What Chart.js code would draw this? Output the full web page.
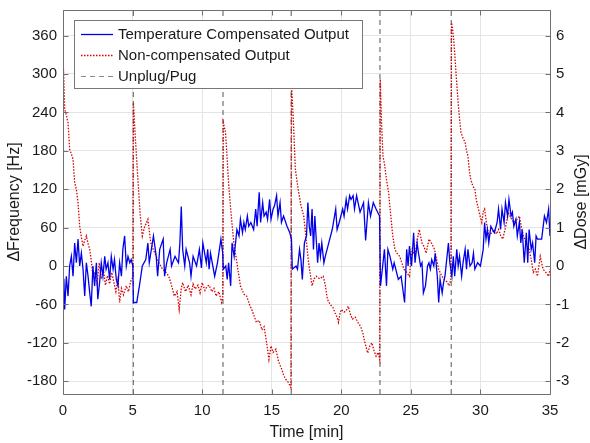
<!DOCTYPE html>
<html>
<head>
<meta charset="utf-8">
<script src="https://cdn.jsdelivr.net/npm/chart.js@4.4.0/dist/chart.umd.min.js"></script>
<style>
html,body{margin:0;padding:0;background:#fff;}
#wrap{position:relative;width:590px;height:443px;}
canvas{display:block;}
</style>
</head>
<body>
<div id="wrap"><canvas id="c" width="590" height="443"></canvas></div>
<script>
// ---- Data ----
const timeComp = [0.0,0.06,0.12,0.24,0.36,0.48,0.6,0.72,0.84,0.96,1.08,1.2,1.32,1.44,1.56,1.68,1.8,1.92,2.03,2.15,2.27,2.4,2.5,2.63,2.75,2.87,3.0,3.1,3.23,3.35,3.47,3.6,3.7,3.83,3.95,4.07,4.2,4.3,4.43,4.55,4.67,4.8,4.9,5.02,5.06,5.3,5.5,5.7,5.95,6.1,6.2,6.5,6.7,6.8,6.95,7.2,7.3,7.45,7.7,7.8,8.05,8.3,8.4,8.5,8.6,8.75,8.85,9.1,9.2,9.35,9.6,9.8,9.95,10.05,10.3,10.4,10.5,10.6,10.9,11.1,11.35,11.48,11.52,11.7,11.8,11.9,12.05,12.15,12.3,12.4,12.5,12.65,12.75,12.9,13.0,13.1,13.25,13.35,13.5,13.7,13.85,13.95,14.1,14.2,14.35,14.45,14.6,14.7,14.85,14.95,15.1,15.2,15.35,15.45,15.6,15.7,15.85,16.1,16.3,16.42,16.48,16.75,16.85,17.0,17.1,17.2,17.35,17.5,17.6,17.7,17.8,17.9,18.0,18.1,18.3,18.4,18.5,18.6,18.75,18.85,19.1,19.35,19.6,19.7,19.85,20.1,20.2,20.35,20.45,20.6,20.7,20.85,20.95,21.1,21.35,21.6,21.75,21.95,22.1,22.3,22.5,22.75,22.82,23.0,23.1,23.25,23.35,23.5,23.7,23.8,24.1,24.3,24.55,24.7,24.8,24.9,25.05,25.2,25.3,25.45,25.55,25.7,25.8,25.9,26.05,26.2,26.3,26.4,26.5,26.65,26.75,26.9,27.0,27.1,27.25,27.35,27.45,27.6,27.7,27.8,27.95,28.05,28.15,28.3,28.4,28.5,28.65,28.75,28.9,29.0,29.1,29.25,29.4,29.5,29.6,29.8,30.0,30.2,30.3,30.4,30.5,30.6,30.75,31.0,31.2,31.3,31.45,31.55,31.7,31.8,31.95,32.05,32.2,32.3,32.4,32.55,32.65,32.8,32.9,33.0,33.15,33.3,33.4,33.5,33.65,33.75,33.9,34.0,34.1,34.4,34.6,34.75,34.9,35.0];
const compensated = [-32,-20,-68,-16,-47,0,15,-16,36,5,42,0,20,-5,-47,5,-16,-42,-63,0,-31,5,-52,-26,5,-16,15,-5,5,-21,15,-5,10,-21,-31,5,-16,26,47,0,15,5,10,0,-57,-57,-30,0,10,36,5,47,15,-16,26,42,-16,5,26,0,15,5,36,93,26,0,26,5,-16,15,0,26,-3,36,5,26,-5,20,-16,5,42,20,-5,0,-21,5,-31,36,15,36,57,47,73,52,68,57,78,62,68,57,89,62,115,68,99,78,84,73,104,73,89,94,110,78,99,68,78,62,52,42,-5,0,-5,26,10,-21,36,47,99,62,47,89,26,78,5,36,15,36,5,15,36,57,89,57,68,89,78,104,89,110,104,110,89,110,84,99,40,99,78,99,89,78,-31,5,26,-31,26,15,-5,5,-21,-16,-57,26,0,31,0,52,5,36,20,0,5,-42,-31,0,5,-5,10,0,20,-16,-57,-21,-42,-26,-16,15,36,5,-16,15,-16,26,0,15,-16,5,26,-5,26,0,5,20,-5,5,0,26,68,42,57,36,62,52,68,89,57,89,68,99,78,104,78,84,62,73,47,68,36,57,5,52,5,57,26,36,5,47,42,42,78,68,89,47];

const timeNonComp = [0.0,0.05,0.12,0.25,0.36,0.48,0.6,0.72,0.84,0.96,1.08,1.2,1.32,1.44,1.56,1.68,1.8,1.92,2.05,2.15,2.3,2.45,2.6,2.75,2.9,3.05,3.2,3.35,3.5,3.65,3.8,3.95,4.07,4.2,4.35,4.55,4.7,4.9,5.02,5.06,5.2,5.4,5.55,5.7,5.85,6.1,6.3,6.5,6.7,6.9,7.15,7.4,7.6,7.8,8.0,8.2,8.35,8.5,8.6,8.8,9.0,9.2,9.35,9.5,9.7,9.85,10.0,10.2,10.35,10.5,10.7,10.85,11.0,11.2,11.4,11.48,11.52,11.68,11.9,12.05,12.27,12.5,12.75,13.0,13.2,13.4,13.6,13.9,14.1,14.3,14.45,14.6,14.8,14.95,15.1,15.3,15.5,15.7,15.85,16.0,16.2,16.38,16.42,16.55,16.7,16.9,17.1,17.3,17.5,17.65,17.9,18.05,18.2,18.45,18.7,18.85,19.0,19.2,19.4,19.55,19.7,19.8,19.9,20.0,20.2,20.35,20.5,20.65,20.8,21.0,21.2,21.4,21.55,21.7,21.8,21.9,22.05,22.2,22.35,22.5,22.65,22.76,22.8,22.9,23.0,23.1,23.25,23.4,23.55,23.7,23.85,24.0,24.2,24.35,24.5,24.7,24.9,25.0,25.1,25.3,25.45,25.6,25.8,25.95,26.1,26.3,26.5,26.7,26.85,27.0,27.2,27.4,27.6,27.75,27.88,27.92,28.0,28.1,28.25,28.4,28.5,28.6,28.75,28.9,29.0,29.1,29.2,29.3,29.45,29.6,29.7,29.8,29.95,30.1,30.2,30.3,30.45,30.6,30.8,31.0,31.15,31.3,31.45,31.6,31.8,32.0,32.2,32.4,32.6,32.8,32.95,33.1,33.3,33.5,33.65,33.8,33.95,34.1,34.3,34.5,34.7,34.9,35.0];
const nonCompensated = [323,300,245,235,224,182,175,167,130,120,99,62,45,31,40,47,35,26,5,-16,-10,-28,5,-20,-5,-30,-15,-28,-10,-25,-40,-20,-57,-35,-45,-31,-40,-21,-18,255,200,130,80,47,60,73,37,25,15,5,-5,-10,-16,-30,-47,-40,-68,-35,-26,-40,-30,-45,-28,-36,-30,-42,-26,-38,-32,-30,-40,-35,-47,-40,-57,-50,224,209,130,89,37,5,-31,-44,-47,-60,-70,-88,-85,-100,-95,-115,-146,-125,-135,-130,-150,-160,-170,-177,-182,-190,285,230,151,120,95,78,37,5,-31,-20,-16,-20,-16,-30,-52,-60,-65,-73,-80,-88,-75,-68,-72,-70,-63,-75,-83,-80,-88,-95,-105,-120,-128,-136,-125,-120,-132,-141,-135,-146,292,220,171,160,135,115,80,47,26,20,15,5,-5,-10,-16,10,26,15,40,57,36,30,20,42,35,26,10,-5,-15,-21,-25,-31,-20,380,370,349,300,255,230,209,200,193,180,172,150,136,125,120,104,94,80,68,85,89,65,47,52,57,50,57,48,42,60,84,75,68,72,78,60,47,35,26,10,-10,-5,-16,15,-5,-10,-16,-5];

const unplugTimes = [0, 5.05, 11.5, 16.4, 22.78, 27.9];
const xTickValues = [0, 5, 10, 15, 20, 25, 30, 35];
const freqTickValues = [-180, -120, -60, 0, 60, 120, 180, 240, 300, 360];
const doseTickValues = [-3, -2, -1, 0, 1, 2, 3, 4, 5, 6];
const freqRange = [-200, 400];
const hzPerMGy = 60;
const seriesLabels = ['Temperature Compensated Output', 'Non-compensated Output', 'Unplug/Pug'];

// ---- Build points ----
const compPts = timeComp.map((t, i) => ({x: t, y: compensated[i]}));
const nonCompPts = timeNonComp.map((t, i) => ({x: t, y: nonCompensated[i]}));
const unplugPts = [];
unplugTimes.forEach(t => {
  unplugPts.push({x: t, y: freqRange[0]});
  unplugPts.push({x: t, y: freqRange[1]});
  unplugPts.push({x: t, y: null});
});

const FONT = "Arial, 'Liberation Sans', Helvetica, sans-serif";
const TXT = '#1a1a1a';
const AXC = '#707070';

const styles = [
  {color: 'rgb(0,0,235)', width: 1.3, dash: []},
  {color: 'rgb(215,0,0)', width: 1.3, dash: [1.5, 1.5]},
  {color: '#555555', width: 1, dash: [5, 4]}
];

const framePlugin = {
  id: 'frame',
  afterDatasetsDraw(chart) {
    const {ctx, chartArea: a, scales} = chart;
    ctx.save();
    ctx.strokeStyle = AXC;
    ctx.lineWidth = 1;
    ctx.setLineDash([]);
    ctx.beginPath();
    const L = Math.round(a.left) + 0.5, R = Math.round(a.right) + 0.5;
    const T = Math.round(a.top) + 0.5, B = Math.round(a.bottom) + 0.5;
    ctx.rect(L, T, R - L, B - T);
    const tl = 5;
    xTickValues.forEach(v => {
      const px = Math.round(scales.x.getPixelForValue(v)) + 0.5;
      ctx.moveTo(px, B); ctx.lineTo(px, B - tl);
      ctx.moveTo(px, T); ctx.lineTo(px, T + tl);
    });
    freqTickValues.forEach(v => {
      const py = Math.round(scales.y.getPixelForValue(v)) + 0.5;
      ctx.moveTo(L, py); ctx.lineTo(L + tl, py);
    });
    doseTickValues.forEach(v => {
      const py = Math.round(scales.y1.getPixelForValue(v)) + 0.5;
      ctx.moveTo(R, py); ctx.lineTo(R - tl, py);
    });
    ctx.stroke();
    ctx.restore();
  },
  afterDraw(chart) {
    const {ctx, chartArea: a} = chart;
    ctx.save();
    // right axis title (reads bottom to top)
    ctx.fillStyle = TXT;
    ctx.font = '16px ' + FONT;
    ctx.textAlign = 'center';
    ctx.textBaseline = 'middle';
    ctx.translate(582, (a.top + a.bottom) / 2);
    ctx.rotate(-Math.PI / 2);
    ctx.fillText('\u0394Dose [mGy]', 0, 0);
    ctx.restore();

    // legend box
    ctx.save();
    const bx = 74.5, by = 20.5, bw = 288, bh = 68;
    ctx.fillStyle = '#ffffff';
    ctx.fillRect(bx, by, bw, bh);
    ctx.strokeStyle = '#777777';
    ctx.lineWidth = 1;
    ctx.strokeRect(bx, by, bw, bh);
    const rows = [34.5, 55.5, 76.5];
    ctx.font = '15px ' + FONT;
    ctx.textAlign = 'left';
    ctx.textBaseline = 'middle';
    seriesLabels.forEach((lab, i) => {
      const s = styles[i];
      ctx.beginPath();
      ctx.strokeStyle = i === 2 ? '#888888' : s.color;
      ctx.lineWidth = s.width;
      ctx.setLineDash(s.dash);
      ctx.moveTo(81, rows[i]);
      ctx.lineTo(113, rows[i]);
      ctx.stroke();
      ctx.setLineDash([]);
      ctx.fillStyle = TXT;
      ctx.fillText(lab, 118, rows[i] + 0.5);
    });
    ctx.restore();
  }
};

const noPadY = s => { s.paddingTop = 0; s.paddingBottom = 0; };

new Chart(document.getElementById('c'), {
  type: 'line',
  data: {
    datasets: [
      {label: seriesLabels[0], data: compPts, yAxisID: 'y', borderColor: styles[0].color, borderWidth: styles[0].width, pointRadius: 0, tension: 0, fill: false},
      {label: seriesLabels[1], data: nonCompPts, yAxisID: 'y', borderColor: styles[1].color, borderWidth: styles[1].width, borderDash: styles[1].dash, pointRadius: 0, tension: 0, fill: false},
      {label: seriesLabels[2], data: unplugPts, yAxisID: 'y', borderColor: styles[2].color, borderWidth: styles[2].width, borderDash: styles[2].dash, pointRadius: 0, tension: 0, fill: false, spanGaps: false}
    ]
  },
  options: {
    responsive: false,
    animation: false,
    devicePixelRatio: 1,
    layout: {padding: {top: 10, left: 0, right: 0, bottom: 0}},
    plugins: {legend: {display: false}, tooltip: {enabled: false}},
    scales: {
      x: {
        type: 'linear', position: 'bottom', min: 0, max: 35,
        afterBuildTicks: s => { s.ticks = xTickValues.map(v => ({value: v})); },
        afterFit: s => { s.height = 49; s.paddingLeft = 0; s.paddingRight = 0; },
        grid: {color: '#e4e4e4', drawTicks: false},
        border: {display: false},
        ticks: {color: TXT, font: {family: FONT, size: 15}, padding: 8, maxRotation: 0},
        title: {display: true, text: 'Time [min]', color: TXT, font: {family: FONT, size: 16}, padding: {top: 0, bottom: 1}}
      },
      y: {
        type: 'linear', position: 'left', min: freqRange[0], max: freqRange[1],
        afterBuildTicks: s => { s.ticks = freqTickValues.map(v => ({value: v})); },
        afterFit: s => { s.width = 63; noPadY(s); },
        grid: {color: '#e4e4e4', drawTicks: false},
        border: {display: false},
        ticks: {color: TXT, font: {family: FONT, size: 15}, padding: 6},
        title: {display: true, text: '\u0394Frequency [Hz]', color: TXT, font: {family: FONT, size: 16}, padding: {top: 5, bottom: 0}}
      },
      y1: {
        type: 'linear', position: 'right', min: freqRange[0] / hzPerMGy, max: freqRange[1] / hzPerMGy,
        afterBuildTicks: s => { s.ticks = doseTickValues.map(v => ({value: v})); },
        afterFit: s => { s.width = 40; noPadY(s); },
        grid: {display: false, drawTicks: false},
        border: {display: false},
        ticks: {color: TXT, font: {family: FONT, size: 15}, padding: 6}
      }
    }
  },
  plugins: [framePlugin]
});
</script>
</body>
</html>
